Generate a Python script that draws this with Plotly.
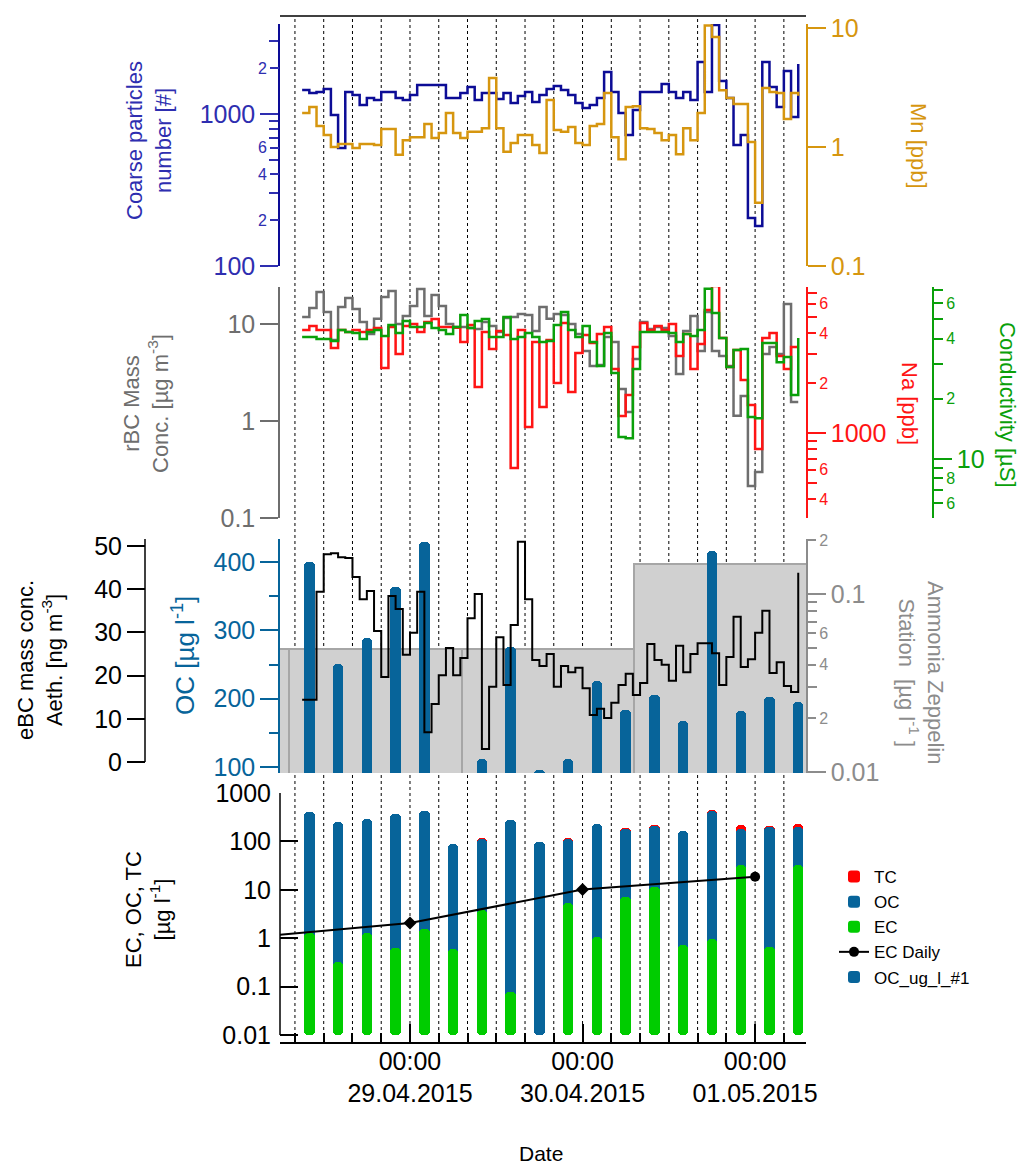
import plotly.graph_objects as go
import pandas as pd

# ---------------- data ----------------
T_START = "2015-04-28 09:00"          # first hourly sample
coarse = [1439,1374,1396,1460,985,598,1396,1333,1146,1274,
          1236,1396,1396,1274,1236,1333,1552,1552,1552,1552,
          1274,1274,1374,1505,1236,1374,1374,1255,1374,1181,
          1313,1396,1199,1333,1460,1528,1439,1333,1181,1095,
          1146,1274,1889,1396,1015,728,1063,1396,1396,1396,
          1576,1396,1274,1396,1236,2198,1396,3850,1648,1274,
          625,728,207,183,2198,1505,1112,1919,956,2132]
mn = [1.93,2.17,1.50,1.26,1.0,1.06,1.06,0.98,1.06,1.06,
      1.04,1.42,1.42,0.86,1.14,1.21,1.21,1.56,1.19,1.31,
      1.93,1.31,1.19,1.34,1.34,1.44,3.8,1.44,0.91,1.08,
      1.26,1.26,1.04,0.89,2.48,1.39,1.34,1.47,1.08,1.04,
      1.50,1.56,2.84,1.21,0.79,2.17,2.2,1.44,1.42,1.31,
      1.14,1.26,0.87,1.44,1.14,1.93,10.5,8.4,3.0,2.58,
      2.30,2.30,1.10,0.34,3.13,2.9,2.84,1.72,2.84,2.7]
rbc = [11.8,14.6,21.4,13.3,6.84,15.0,18.5,14.3,10.5,7.89,
       11.3,19.0,21.9,10.0,12.1,15.3,22.9,12.1,19.9,15.3,
       10.0,9.31,9.31,9.09,8.88,10.5,9.54,8.27,11.5,11.8,
       12.7,12.4,8.47,15.0,11.3,12.7,12.4,10.0,7.89,5.27,
       3.69,3.78,7.35,6.52,2.14,1.24,4.36,10.5,8.88,9.31,
       9.09,7.52,3.05,8.47,12.1,5.27,13.3,5.27,4.68,3.69,
       1.13,1.81,0.214,0.298,4.91,5.79,4.91,16.1,1.57,1.57]
na = [4169,4416,4169,4169,3251,4169,4055,4169,4055,4169,
      4296,2465,4355,2993,4416,4540,4055,4667,4866,4355,
      4355,4300,3531,4477,1892,4055,3206,4111,3890,615,
      4169,1087,3531,1434,3631,2000,4603,1766,3034,3890,
      3483,3945,4355,2432,1265,1693,3296,4603,4169,4416,
      4169,4540,2913,3945,2432,3436,5508,7690,3733,2500,
      3162,2084,1475,801,3733,4000,2913,2432,3296,3296]
cond = [40.7,40.7,39.8,39.8,38.9,44.2,43.2,42.7,39.8,43.2,
        44.2,41.2,46.8,42.7,49.0,45.7,45.7,47.9,45.2,44.2,
        42.2,45.7,52.5,45.2,49.0,50.1,40.7,40.7,51.3,39.8,
        40.7,42.7,40.7,38.5,38.9,46.8,54.3,44.2,40.7,46.2,
        38.5,29.2,42.7,26.9,12.9,12.7,28.2,43.2,43.2,43.2,
        43.2,42.7,38.5,42.2,41.2,44.2,71.0,53.7,40.3,28.8,
        35.1,35.5,16.2,16.0,38.0,38.0,30.5,32.4,20.9,40.3]
ebc = [14.4,14.4,39.4,48.1,48.3,47.4,47.2,42.8,37.7,39.6,
       30.3,19.7,38.4,35.4,24.8,29.9,39.4,6.9,13.4,20.1,
       26.4,20.1,24.1,33.3,38.9,3.0,17.4,28.9,17.8,31.7,
       51.0,37.7,23.6,22.2,25.0,17.4,22.2,20.8,21.8,17.1,
       10.9,12.3,10.2,13.7,17.8,20.4,15.5,18.3,27.3,23.6,
       22.5,18.8,26.9,20.8,25.0,27.5,27.5,25.2,17.8,24.3,
       33.6,22.0,23.8,29.9,35.0,20.6,23.1,17.6,16.2,43.8]

SAMPLE_START = "2015-04-28 10:00"     # filter samples, every 4 h
oc = [400,251,289,364,429,88,112,276,96,112,226,183,205,167,416,182,203,195]
ec = [1.28,0.32,1.25,0.63,1.55,0.6,3.8,0.068,None,5.3,1.06,7.1,11.4,0.72,0.95,32.6,0.66,32.6]
tc = [401.3,251.3,290.3,364.6,430.6,88.6,115.8,276.1,96,117.3,227.1,190.1,216.4,167.7,445,214.6,203.7,227.6]

ec_daily_dates = ["2015-04-28", "2015-04-29", "2015-04-30", "2015-05-01"]
ec_daily = [0.98, 2.06, 10.1, 18.6]

ammonia_start = ["2015-04-27 07:10", "2015-04-28 07:10", "2015-04-29 07:10", "2015-04-30 07:10"]
ammonia = [0.049, 0.049, 0.049, 0.1475]

day_ticks = ["2015-04-29", "2015-04-30", "2015-05-01"]
day_labels = ["00:00<br>29.04.2015", "00:00<br>30.04.2015", "00:00<br>01.05.2015"]

# ---------------- helpers ----------------
W, H = 1026, 1167
def px(x): return x / W
def py(y): return 1 - y / H
T0 = pd.Timestamp("2015-04-28 00:00")
def t(h): return T0 + pd.Timedelta(hours=h)

hourly = pd.date_range(T_START, periods=len(coarse), freq="h")
samples = pd.date_range(SAMPLE_START, periods=len(oc), freq="4h")
four_h = pd.date_range("2015-04-28 08:00", "2015-05-01 04:00", freq="4h")

FONT = "Liberation Sans, Arial, sans-serif"
C_BLUE_L, C_BLUE_T = "#0c0c96", "#2e2eb0"
C_MN = "#d6960f"
C_GREY = "#6e6e6e"
C_RED = "#ff1414"
C_GREEN = "#0aa00a"
C_OC = "#07649a"
C_AMM = "#8c8c8c"
C_EC = "#00cc00"

BAR_W = 1.45 * 3600 * 1000
DAY_W = 24 * 3600 * 1000

P1 = [py(266), py(24)]
P2 = [py(518), py(287)]
P3 = [py(773), py(539)]
P4 = [py(1042), py(793)]

def yax(color, major_len=18, size=25, **kw):
    d = dict(showgrid=False, zeroline=False, showline=True, linecolor=color,
             linewidth=1.5, ticks="outside", ticklen=major_len, tickwidth=1.5,
             tickcolor=color, tickfont=dict(size=size, color=color, family=FONT),
             tickmode="array", automargin=False, anchor="x")
    d.update(kw)
    return d

def labax(color, **kw):
    d = dict(showgrid=False, zeroline=False, showline=False, ticks="outside",
             ticklen=9, tickwidth=1.5, tickcolor=color,
             tickfont=dict(size=16, color=color, family=FONT),
             tickmode="array", automargin=False, anchor="x")
    d.update(kw)
    return d

def minor(vals, color, ticks="outside"):
    return dict(tickmode="array", tickvals=vals, ticks=ticks, ticklen=9,
                tickwidth=1.5, tickcolor=color)

fig = go.Figure()

# panel 1
fig.add_trace(go.Scatter(x=hourly, y=coarse, mode="lines", yaxis="y",
                         line=dict(shape="hv", color=C_BLUE_L, width=2.5), showlegend=False))
fig.add_trace(go.Scatter(x=hourly, y=mn, mode="lines", yaxis="y2",
                         line=dict(shape="hv", color=C_MN, width=2.5), showlegend=False))
# panel 2
fig.add_trace(go.Scatter(x=hourly, y=rbc, mode="lines", yaxis="y3",
                         line=dict(shape="hv", color=C_GREY, width=2.5), showlegend=False))
fig.add_trace(go.Scatter(x=hourly, y=na, mode="lines", yaxis="y4",
                         line=dict(shape="hv", color=C_RED, width=2.5), showlegend=False))
fig.add_trace(go.Scatter(x=hourly, y=cond, mode="lines", yaxis="y5",
                         line=dict(shape="hv", color=C_GREEN, width=2.5), showlegend=False))
# panel 3
fig.add_trace(go.Bar(x=ammonia_start, y=ammonia, yaxis="y6", width=DAY_W, offset=0,
                     marker=dict(color="#d0d0d0", line=dict(color="#a6a6a6", width=2)),
                     showlegend=False))
fig.add_trace(go.Bar(x=samples, y=oc, yaxis="y7", width=BAR_W, name="OC_ug_l_#1",
                     marker=dict(color=C_OC, line=dict(width=0), cornerradius=4),
                     legendrank=5))
fig.add_trace(go.Scatter(x=hourly, y=ebc, mode="lines", yaxis="y8",
                         line=dict(shape="hv", color="black", width=2), showlegend=False))
# panel 4
fig.add_trace(go.Bar(x=samples, y=tc, base=0.01, yaxis="y9", width=BAR_W, name="TC",
                     marker=dict(color="#ff0000", line=dict(width=0), cornerradius=4), legendrank=1))
fig.add_trace(go.Bar(x=samples, y=oc, base=0.01, yaxis="y9", width=BAR_W, name="OC",
                     marker=dict(color=C_OC, line=dict(width=0), cornerradius=4), legendrank=2))
fig.add_trace(go.Bar(x=samples, y=ec, base=0.01, yaxis="y9", width=BAR_W, name="EC",
                     marker=dict(color=C_EC, line=dict(width=0), cornerradius=4), legendrank=3))
fig.add_trace(go.Scatter(x=ec_daily_dates, y=ec_daily, yaxis="y9", name="EC Daily",
                         mode="lines+markers", line=dict(color="black", width=2),
                         marker=dict(color="black", size=10,
                                     symbol=["circle", "diamond", "diamond", "circle"]),
                         legendrank=4))
# placeholders so that label-only axes are drawn
for ya in ["y10", "y11", "y12", "y13"]:
    fig.add_trace(go.Scatter(x=[day_ticks[0]], y=[None], yaxis=ya, showlegend=False,
                             hoverinfo="skip", mode="lines"))

x_range = [t(5.92), t(79.08)]

layout = dict(
    width=W, height=H, template="none",
    margin=dict(l=0, r=0, t=0, b=0), autosize=False,
    paper_bgcolor="white", plot_bgcolor="rgba(0,0,0,0)",
    font=dict(family=FONT, color="black"),
    barmode="overlay", bargap=0,
    xaxis=dict(domain=[px(280), px(806)], type="date", range=x_range, anchor="y9",
               showline=True, linecolor="black", linewidth=1.5, showgrid=False, zeroline=False,
               ticks="inside", ticklen=18, tickwidth=1.5, tickcolor="black",
               tickmode="array", tickvals=day_ticks, ticktext=day_labels,
               ticklabelstandoff=-4,
               tickfont=dict(size=25, color="black", family=FONT),
               minor=minor(list(four_h), "black", ticks="inside"), automargin=False),
    # panel 1
    yaxis=yax(C_BLUE_T, domain=P1, type="log", range=[2, 2 + 242 / 152], side="left",
              linecolor=C_BLUE_L, tickvals=[100, 1000], ticktext=["100", "1000"],
              minor=minor([300, 500, 700, 800, 900, 3000], C_BLUE_T)),
    yaxis10=labax(C_BLUE_T, overlaying="y", type="log", range=[2, 2 + 242 / 152], side="left",
                  tickvals=[200, 400, 600, 2000], ticktext=["2", "4", "6", "2"]),
    yaxis2=yax(C_MN, overlaying="y", type="log", range=[-1, -1 + 242 / 119], side="right",
               tickvals=[0.1, 1, 10], ticktext=["0.1", "1", "10"]),
    # panel 2
    yaxis3=yax(C_GREY, domain=P2, type="log", range=[-1, -1 + 231 / 97], side="left",
               tickvals=[0.1, 1, 10], ticktext=["0.1", "1", "10"]),
    yaxis4=yax(C_RED, overlaying="y3", type="log", range=[2.488, 2.488 + 231 / 166], side="right",
               tickvals=[1000], ticktext=["1000"],
               minor=minor([300, 500, 700, 800, 900, 3000, 5000, 7000], C_RED)),
    yaxis11=labax(C_RED, overlaying="y3", type="log", range=[2.488, 2.488 + 231 / 166], side="right",
                  tickvals=[400, 600, 2000, 4000, 6000], ticktext=["4", "6", "2", "4", "6"]),
    yaxis5=yax(C_GREEN, overlaying="y3", type="log", range=[0.705, 0.705 + 231 / 200], side="right",
               anchor="free", position=px(933), tickvals=[10], ticktext=["10"],
               minor=minor([7, 9, 30, 50, 70], C_GREEN)),
    yaxis12=labax(C_GREEN, overlaying="y3", type="log", range=[0.705, 0.705 + 231 / 200], side="right",
                  anchor="free", position=px(933),
                  tickvals=[6, 8, 20, 40, 60], ticktext=["6", "8", "2", "4", "6"]),
    # panel 3
    yaxis6=yax(C_AMM, domain=P3, type="log", range=[-2.0056, -2.0056 + 234 / 178], side="right",
               tickvals=[0.01, 0.1], ticktext=["0.01", "0.1"],
               minor=minor([0.03, 0.05, 0.07, 0.08, 0.09], C_AMM)),
    yaxis13=labax(C_AMM, overlaying="y6", type="log", range=[-2.0056, -2.0056 + 234 / 178], side="right",
                  tickvals=[0.02, 0.04, 0.06, 0.2], ticktext=["2", "4", "6", "2"]),
    yaxis7=yax(C_OC, overlaying="y6", range=[91.2, 91.2 + 234 / 0.683], side="left",
               tickvals=[100, 200, 300, 400], ticktext=["100", "200", "300", "400"],
               minor=minor([150, 250, 350], C_OC)),
    yaxis8=yax("black", overlaying="y6", range=[-2.546, -2.546 + 234 / 4.32], side="left",
               anchor="free", position=px(145), showline=False,
               tickvals=[0, 10, 20, 30, 40, 50], ticktext=["0", "10", "20", "30", "40", "50"]),
    # panel 4
    yaxis9=yax("black", domain=P4, type="log", range=[3 - 249 / 48.4, 3], side="left",
               showline=False, ticks="inside", ticklabelstandoff=8,
               tickvals=[0.01, 0.1, 1, 10, 100, 1000],
               ticktext=["0.01", "0.1", "1", "10", "100", "1000"]),
    legend=dict(x=px(834), y=py(859), xanchor="left", yanchor="top",
                font=dict(size=17, color="black", family=FONT),
                bgcolor="rgba(0,0,0,0)", traceorder="normal", itemwidth=30),
    showlegend=True,
)
fig.update_layout(**layout)

shapes = []
for tk in four_h:
    shapes.append(dict(type="line", xref="x", yref="paper", x0=tk, x1=tk,
                       y0=py(1042), y1=py(17), layer="below",
                       line=dict(color="black", width=1, dash="dot")))
shapes.append(dict(type="line", xref="paper", yref="paper", x0=px(280), x1=px(806),
                   y0=py(16), y1=py(16), line=dict(color="black", width=1.5)))
shapes.append(dict(type="line", xref="paper", yref="paper", x0=px(145), x1=px(145),
                   y0=py(539), y1=py(762), line=dict(color="black", width=1.5)))
shapes.append(dict(type="line", xref="paper", yref="paper", x0=px(280), x1=px(280),
                   y0=py(793), y1=py(1035), line=dict(color="black", width=1.5)))
fig.update_layout(shapes=shapes)

def ann(text, x, y, angle, color, size=22):
    return dict(text=text, x=px(x), y=py(y), xref="paper", yref="paper",
                xanchor="center", yanchor="middle", textangle=angle, showarrow=False,
                font=dict(size=size, color=color, family=FONT))

fig.update_layout(annotations=[
    ann("Coarse particles<br>number [#]", 149, 141, -90, C_BLUE_T),
    ann("Mn [ppb]", 918, 146, 90, C_MN),
    ann("rBC Mass<br>Conc. [µg m<sup>-3</sup>]", 146, 404, -90, C_GREY),
    ann("Na [ppb]", 910, 403, 90, C_RED),
    ann("Conductivity [µS]", 1008, 405, 90, C_GREEN),
    ann("eBC mass conc.<br>Aeth. [ng m<sup>-3</sup>]", 40, 660, -90, "black"),
    ann("OC [µg l<sup>-1</sup>]", 183, 656, -90, C_OC, size=26),
    ann("Ammonia Zeppelin<br>Station  [µg l<sup>-1</sup> ]", 921, 672, 90, C_AMM),
    ann("EC, OC, TC<br>[µg l<sup>-1</sup>]", 148, 910, -90, "black"),
    ann("Date", 541, 1153, 0, "black", size=21),
])

fig.write_html("out.html", config={"displayModeBar": False},
               post_script="document.body.style.margin='0';document.body.style.overflow='hidden';")
